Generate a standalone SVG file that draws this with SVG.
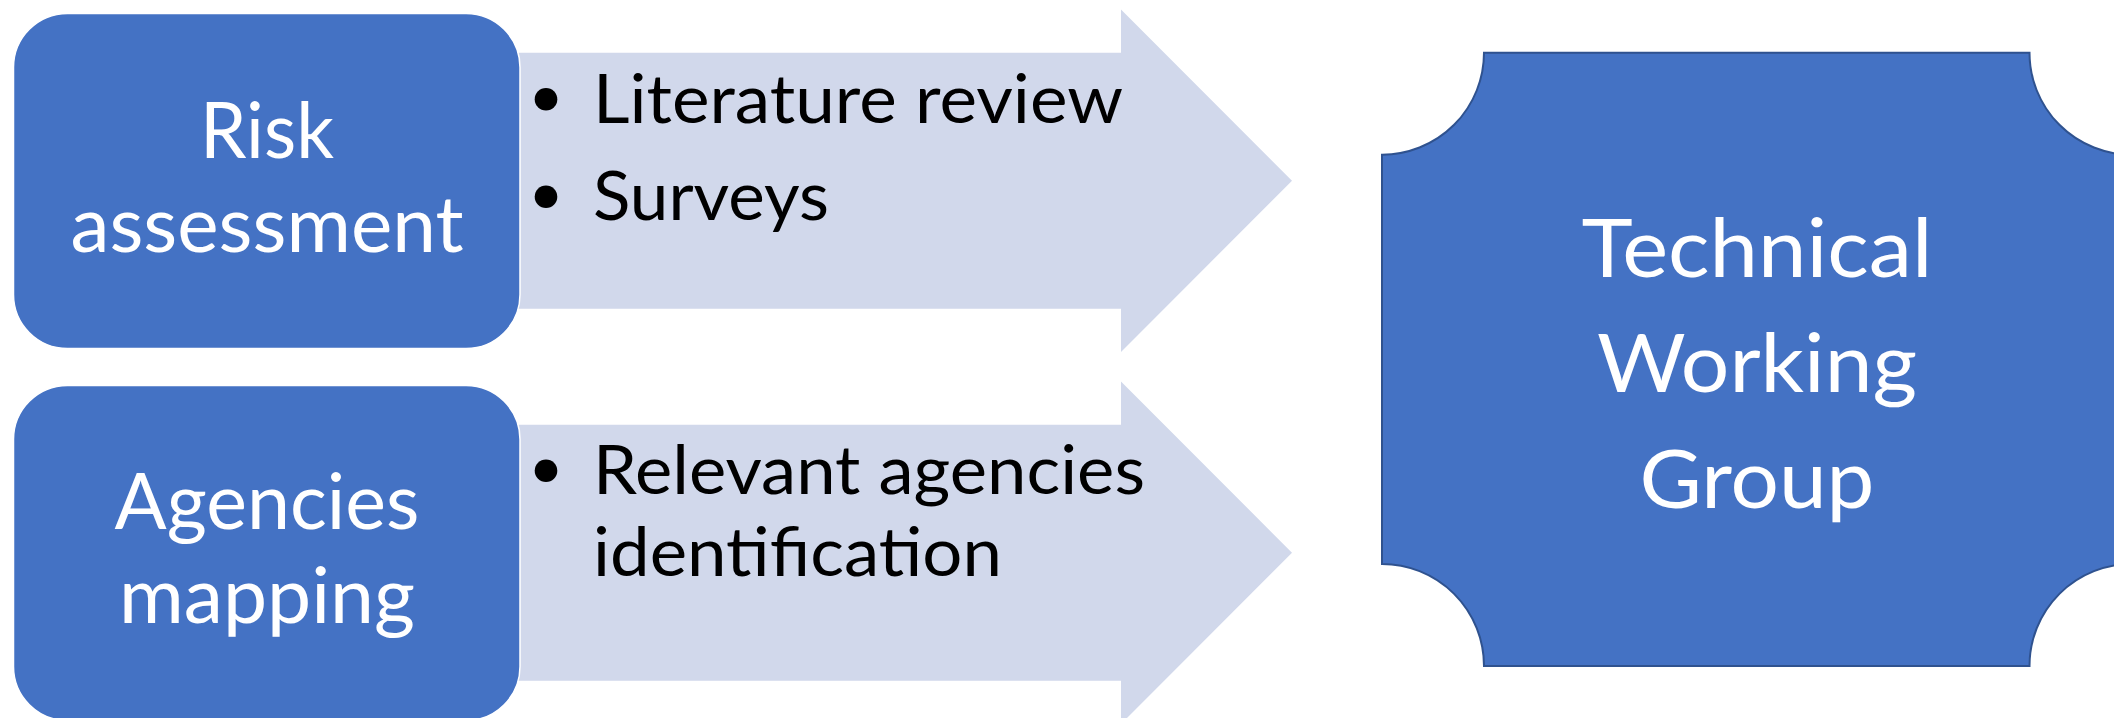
<svg xmlns="http://www.w3.org/2000/svg" width="2114" height="718" viewBox="0 0 2114 718">
  <style>
    .box { fill: #4472C4; stroke: #FFFFFF; stroke-width: 1.5; }
    .arrow { fill: #D1D8EB; stroke: none; }
    .plaque { fill: #4472C4; stroke: #2F528F; stroke-width: 2; }
    .label { font-family: Lato, "Liberation Sans", sans-serif; fill: #FFFFFF; text-anchor: middle; font-size: 77.5px; }
    .twg { font-family: Lato, "Liberation Sans", sans-serif; fill: #FFFFFF; text-anchor: middle; font-size: 82px; }
    .bullet-text { font-family: Lato, "Liberation Sans", sans-serif; fill: #000000; font-size: 68px; }
    .dot { fill: #000000; }
  </style>
  <rect width="2114" height="718" fill="#FFFFFF"/>

  <g id="connectors">
    <g id="arrow-1">
      <path class="arrow" d="M516,52.7 H1121 V9.4 L1292,180.7 L1121,352 V308.7 H516 Z"/>
      <circle class="dot" cx="546" cy="99.3" r="11.3"/>
      <text class="bullet-text" x="593" y="122.7" textLength="530" lengthAdjust="spacingAndGlyphs">Literature review</text>
      <circle class="dot" cx="546" cy="196.7" r="11.3"/>
      <text class="bullet-text" x="593" y="220" textLength="236" lengthAdjust="spacingAndGlyphs">Surveys</text>
    </g>
    <g id="arrow-2">
      <path class="arrow" d="M516,424.7 H1121 V381.4 L1292,552.7 L1121,724 V680.7 H516 Z"/>
      <circle class="dot" cx="546" cy="470.7" r="11.3"/>
      <text class="bullet-text" x="593" y="494" textLength="552" lengthAdjust="spacingAndGlyphs">Relevant agencies</text>
      <text class="bullet-text" x="593" y="576" textLength="409" lengthAdjust="spacingAndGlyphs">identification</text>
    </g>
  </g>

  <g id="risk-assessment">
    <rect class="box" x="13.5" y="13.5" width="506.5" height="335" rx="54" ry="54"/>
    <text class="label" x="267" y="158.3" textLength="134" lengthAdjust="spacingAndGlyphs">Risk</text>
    <text class="label" x="267" y="251.7" textLength="393" lengthAdjust="spacingAndGlyphs">assessment</text>
  </g>

  <g id="agencies-mapping">
    <rect class="box" x="13.5" y="385.5" width="506.5" height="335" rx="54" ry="54"/>
    <text class="label" x="267" y="529.3" textLength="305" lengthAdjust="spacingAndGlyphs">Agencies</text>
    <text class="label" x="267" y="623.3" textLength="296" lengthAdjust="spacingAndGlyphs">mapping</text>
  </g>

  <g id="technical-working-group">
    <path class="plaque" d="M1484,52.7 H2029.5 A102,102 0 0 0 2131.5,154.7 V564 A102,102 0 0 0 2029.5,666 H1484 A102,102 0 0 0 1382,564 V154.7 A102,102 0 0 0 1484,52.7 Z"/>
    <text class="twg" x="1757" y="277" textLength="351" lengthAdjust="spacingAndGlyphs">Technical</text>
    <text class="twg" x="1757" y="392" textLength="320" lengthAdjust="spacingAndGlyphs">Working</text>
    <text class="twg" x="1757" y="508" textLength="235" lengthAdjust="spacingAndGlyphs">Group</text>
  </g>
</svg>
